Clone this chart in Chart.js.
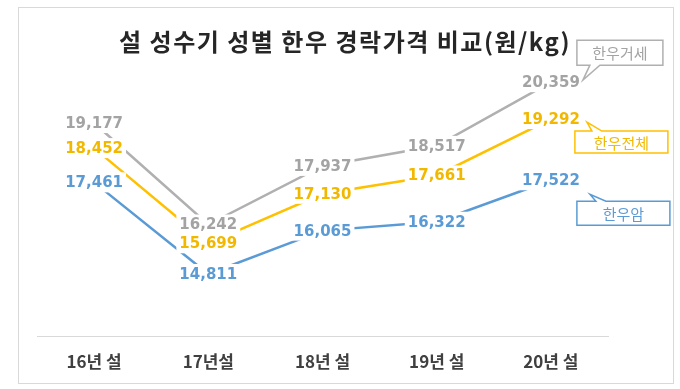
<!DOCTYPE html>
<html>
<head>
<meta charset="utf-8">
<title>설 성수기 성별 한우 경락가격 비교</title>
<style>
  body { margin: 0; background: #fff; }
</style>
</head>
<body>
<canvas id="chart" width="680" height="389"></canvas>
<script src="https://cdn.jsdelivr.net/npm/chart.js@4/dist/chart.umd.min.js"></script>
<script>
// data (원/kg)
const categories = ['16년 설', '17년설', '18년 설', '19년 설', '20년 설'];
const steerPrice = [19177, 16242, 17937, 18517, 20359]; // 한우거세
const totalPrice = [18452, 15699, 17130, 17661, 19292]; // 한우전체
const cowPrice = [17461, 14811, 16065, 16322, 17522];   // 한우암
const seriesNames = ['한우거세', '한우전체', '한우암'];
const yMin = 13000;
const yMax = 21000;

const chartTitle = '설 성수기 성별 한우 경락가격 비교(원/kg)';

const lineColors = ['#b0b0b0', '#ffc000', '#5b9bd5'];
const textColors = ['#a3a3a3', '#f2b800', '#5b9bd5'];

// callout box placement, relative to the last point of each series
const callouts = [
  { dx: 26, dy: -42, w: 86, h: 25, tail: 'bottom', tip: [32, -2], base: [39, 49] },
  { dx: 24, dy: 12, w: 93, h: 22, tail: 'top', tip: [36, 3], base: [41, 51] },
  { dx: 26, dy: 21, w: 93, h: 24, tail: 'top', tip: [39, 14], base: [45, 55] }
];

const framePlugin = {
  id: 'frame',
  beforeDraw(chart) {
    const ctx = chart.ctx;
    ctx.save();
    ctx.fillStyle = '#fff';
    ctx.fillRect(0, 0, chart.width, chart.height);
    ctx.strokeStyle = '#d9d9d9';
    ctx.lineWidth = 1;
    ctx.strokeRect(18.5, 7.5, 655, 376);
    ctx.restore();
  },
  afterDraw(chart) {
    const ctx = chart.ctx;
    ctx.save();
    ctx.fillStyle = '#262626';
    ctx.font = 'bold 24px "Noto Sans CJK KR"';
    ctx.letterSpacing = '1.5px';
    ctx.textAlign = 'center';
    ctx.textBaseline = 'middle';
    ctx.fillText(chartTitle, 345, 42);
    ctx.restore();
  }
};

const labelPlugin = {
  id: 'pointLabels',
  afterDatasetsDraw(chart) {
    const ctx = chart.ctx;
    ctx.save();
    ctx.font = 'bold 15px "DejaVu Sans"';
    ctx.textAlign = 'center';
    ctx.textBaseline = 'middle';
    chart.data.datasets.forEach((ds, i) => {
      const meta = chart.getDatasetMeta(i);
      meta.data.forEach((pt, j) => {
        const txt = ds.data[j].toLocaleString('en-US');
        const w = ctx.measureText(txt).width;
        ctx.fillStyle = '#fff';
        ctx.fillRect(pt.x - w / 2 - 3, pt.y - 10, w + 6, 20);
        ctx.fillStyle = textColors[i];
        ctx.fillText(txt, pt.x, pt.y + 1);
      });
    });

    // speech-bubble series names
    ctx.font = '15px "Noto Sans CJK KR"';
    ctx.lineWidth = 1.5;
    chart.data.datasets.forEach((ds, i) => {
      const meta = chart.getDatasetMeta(i);
      const last = meta.data[meta.data.length - 1];
      const c = callouts[i];
      const l = last.x + c.dx, t = last.y + c.dy, r = l + c.w, b = t + c.h;
      const tx = last.x + c.tip[0], ty = last.y + c.tip[1];
      const bl = last.x + c.base[0], br = last.x + c.base[1];
      ctx.beginPath();
      if (c.tail === 'top') {
        ctx.moveTo(l, t); ctx.lineTo(bl, t); ctx.lineTo(tx, ty); ctx.lineTo(br, t);
        ctx.lineTo(r, t); ctx.lineTo(r, b); ctx.lineTo(l, b);
      } else {
        ctx.moveTo(l, t); ctx.lineTo(r, t); ctx.lineTo(r, b); ctx.lineTo(br, b);
        ctx.lineTo(tx, ty); ctx.lineTo(bl, b); ctx.lineTo(l, b);
      }
      ctx.closePath();
      ctx.fillStyle = '#fff';
      ctx.fill();
      ctx.strokeStyle = lineColors[i];
      ctx.stroke();
      ctx.fillStyle = textColors[i];
      ctx.fillText(ds.label, (l + r) / 2, (t + b) / 2 + 1);
    });
    ctx.restore();
  }
};

const seriesValues = [steerPrice, totalPrice, cowPrice];

new Chart(document.getElementById('chart'), {
  type: 'line',
  data: {
    labels: categories,
    datasets: seriesValues.map((vals, i) => ({
      label: seriesNames[i],
      data: vals,
      borderColor: lineColors[i],
      borderWidth: 2.5,
      pointRadius: 0,
      tension: 0,
      fill: false
    }))
  },
  options: {
    responsive: false,
    animation: false,
    layout: { padding: { left: 37, right: 72, top: 60, bottom: 2 } },
    plugins: {
      legend: { display: false },
      title: { display: false },
      tooltip: { enabled: false }
    },
    scales: {
      x: {
        offset: true,
        grid: { display: false, drawTicks: false },
        border: { display: true, color: '#d9d9d9', width: 1 },
        ticks: {
          padding: 15,
          color: '#404040',
          font: { family: '"Noto Sans CJK KR"', size: 17, weight: 'bold' }
        }
      },
      y: {
        display: false,
        min: yMin,
        max: yMax
      }
    }
  },
  plugins: [framePlugin, labelPlugin]
});
</script>
</body>
</html>
